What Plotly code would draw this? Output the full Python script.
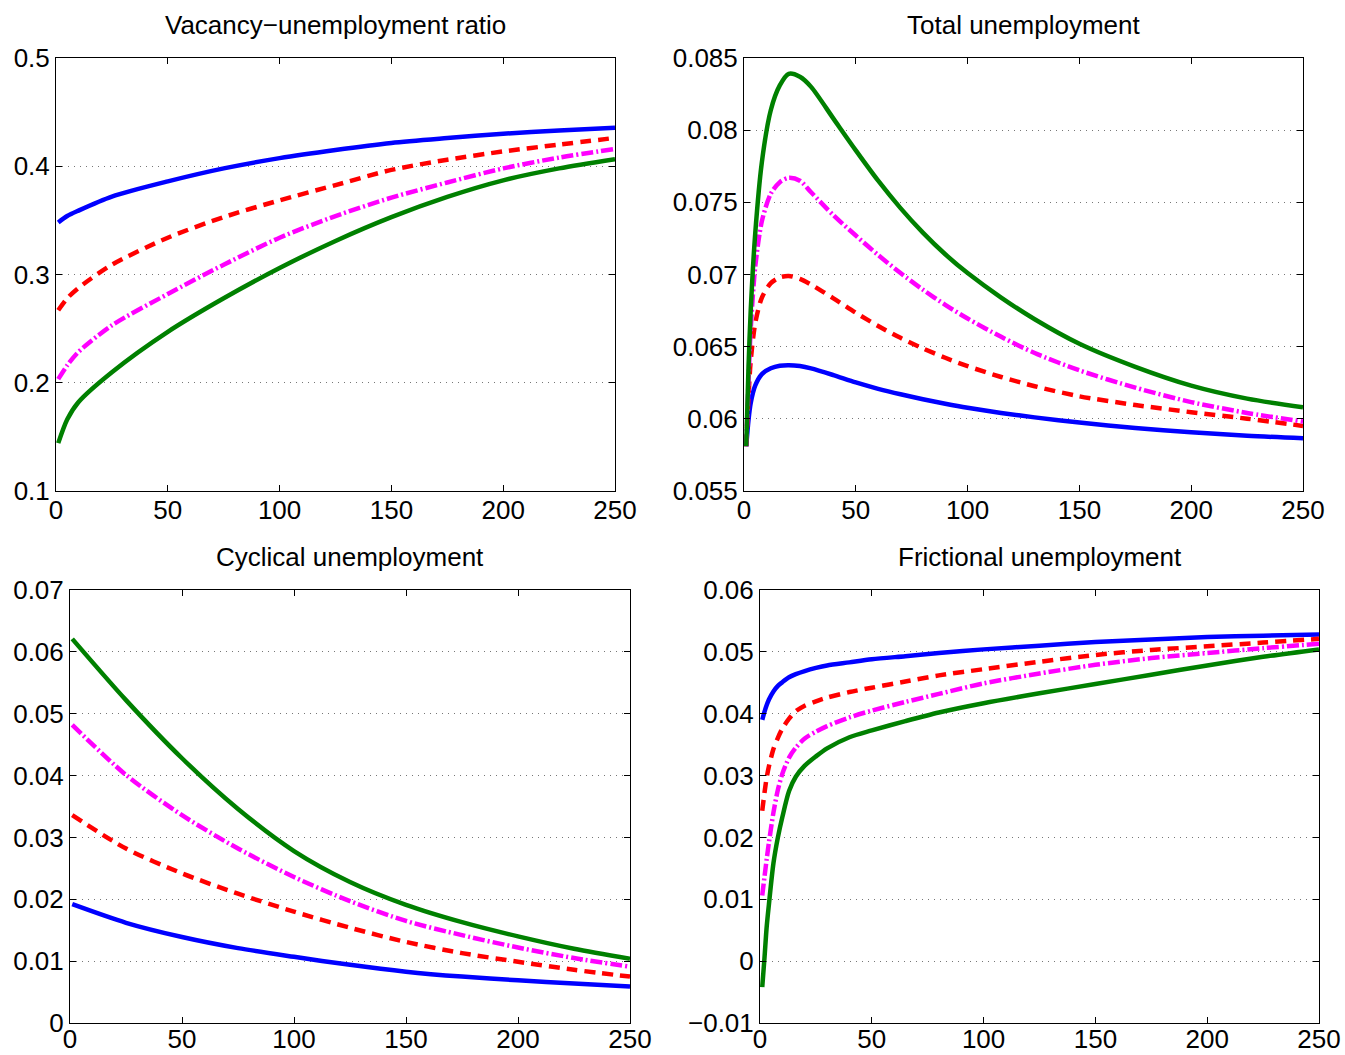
import plotly.graph_objects as go

# ---------------- data ----------------
titles = ["Vacancy\u2212unemployment ratio", "Total unemployment",
          "Cyclical unemployment", "Frictional unemployment"]
series_names = ["blue", "red", "magenta", "green"]

x_vu = [1, 5, 10, 25, 50, 75, 100, 125, 150, 175, 200, 225, 250]
vu_blue = [0.348, 0.354, 0.359, 0.372, 0.386, 0.398, 0.4075, 0.415, 0.4215, 0.426, 0.430, 0.433, 0.4355]
vu_red = [0.267, 0.278, 0.2875, 0.309, 0.334, 0.353, 0.3685, 0.3826, 0.3966, 0.406, 0.4137, 0.420, 0.4262]
vu_mag = [0.2034, 0.216, 0.2284, 0.253, 0.282, 0.309, 0.334, 0.354, 0.371, 0.385, 0.398, 0.408, 0.416]
vu_green = [0.1442, 0.166, 0.182, 0.2097, 0.247, 0.278, 0.306, 0.331, 0.353, 0.3717, 0.387, 0.398, 0.4065]

x_tot = [1, 2, 3, 5, 8, 12, 16, 20, 25, 30, 40, 50, 60, 70, 80, 90, 100, 115, 130, 150, 175, 200, 225, 250]
tot_blue = [0.0581, 0.0599, 0.0611, 0.0623, 0.0631, 0.0635, 0.06368, 0.06372, 0.06366, 0.06350, 0.06303, 0.06252,
            0.06208, 0.06170, 0.06136, 0.06105, 0.06077, 0.06041, 0.06010, 0.05974, 0.05937, 0.05907, 0.05883, 0.05866]
tot_red = [0.0581, 0.0615, 0.0640, 0.0666, 0.0684, 0.0694, 0.0698, 0.0699, 0.0697, 0.0693, 0.06835, 0.06735,
           0.06643, 0.06561, 0.06488, 0.06423, 0.06365, 0.06290, 0.06226, 0.06156, 0.06096, 0.06046, 0.06001, 0.05951]
tot_mag = [0.0581, 0.0625, 0.0662, 0.0705, 0.0737, 0.0756, 0.0764, 0.0767, 0.0765, 0.0757, 0.0741, 0.0727,
           0.07135, 0.07010, 0.06895, 0.06790, 0.06695, 0.06568, 0.06456, 0.06336, 0.06216, 0.06116, 0.06041, 0.05981]
tot_green = [0.0581, 0.0635, 0.0675, 0.0728, 0.0778, 0.0814, 0.0831, 0.0839, 0.0837, 0.0830, 0.0808, 0.0786,
             0.0765, 0.0746, 0.0729, 0.0714, 0.0701, 0.0684, 0.0669, 0.0652, 0.0636, 0.0623, 0.0614, 0.0608]

x_cyc = [1, 25, 50, 75, 100, 125, 150, 175, 200, 225, 250]
cyc_blue = [0.0192, 0.0162, 0.0139, 0.0121, 0.0107, 0.0094, 0.0083, 0.0075, 0.0069, 0.0064, 0.0059]
cyc_red = [0.0336, 0.0282, 0.0242, 0.0209, 0.0180, 0.0154, 0.0131, 0.0113, 0.0099, 0.0086, 0.0075]
cyc_mag = [0.0482, 0.0401, 0.0336, 0.0282, 0.0236, 0.0197, 0.0165, 0.0142, 0.0122, 0.0105, 0.0091]
cyc_green = [0.0621, 0.0522, 0.0428, 0.0346, 0.0278, 0.0228, 0.0191, 0.0163, 0.0140, 0.0120, 0.0104]

x_fri = [1, 2, 3, 4, 6, 8, 10, 13, 16, 20, 25, 30, 40, 50, 65, 80, 100, 125, 150, 175, 200, 225, 250]
fri_blue = [0.0390, 0.0403, 0.0414, 0.0423, 0.0436, 0.0445, 0.0451, 0.0459, 0.0464, 0.0469, 0.0474, 0.0478,
            0.0483, 0.0488, 0.0493, 0.0498, 0.0504, 0.0510, 0.0516, 0.0520, 0.0524, 0.0526, 0.0528]
fri_red = [0.0243, 0.0272, 0.0297, 0.0315, 0.0343, 0.0361, 0.0376, 0.0392, 0.0404, 0.0413, 0.0420, 0.0426,
           0.0435, 0.0442, 0.0452, 0.0462, 0.0472, 0.0484, 0.0495, 0.0503, 0.0509, 0.0515, 0.0521]
fri_mag = [0.0106, 0.0136, 0.0165, 0.0192, 0.0240, 0.0277, 0.0303, 0.0329, 0.0345, 0.0360, 0.0371, 0.0380,
           0.0394, 0.0405, 0.0419, 0.0432, 0.0449, 0.0465, 0.0479, 0.0490, 0.0498, 0.0506, 0.0513]
fri_green = [-0.0042, 0.0005, 0.0056, 0.0092, 0.0158, 0.0200, 0.0233, 0.0275, 0.0298, 0.0316, 0.0331, 0.0344,
             0.0362, 0.0373, 0.0388, 0.0402, 0.0417, 0.0433, 0.0448, 0.0463, 0.0478, 0.0492, 0.0504]

x_ticks = [0, 50, 100, 150, 200, 250]
y_ticks_vu = [0.1, 0.2, 0.3, 0.4, 0.5]
y_labels_vu = ["0.1", "0.2", "0.3", "0.4", "0.5"]
y_ticks_tot = [0.055, 0.06, 0.065, 0.07, 0.075, 0.08, 0.085]
y_labels_tot = ["0.055", "0.06", "0.065", "0.07", "0.075", "0.08", "0.085"]
y_ticks_cyc = [0, 0.01, 0.02, 0.03, 0.04, 0.05, 0.06, 0.07]
y_labels_cyc = ["0", "0.01", "0.02", "0.03", "0.04", "0.05", "0.06", "0.07"]
y_ticks_fri = [-0.01, 0, 0.01, 0.02, 0.03, 0.04, 0.05, 0.06]
y_labels_fri = ["\u22120.01", "0", "0.01", "0.02", "0.03", "0.04", "0.05", "0.06"]

# ---------------- styling ----------------
W, H = 1345, 1055
styles = [
    dict(color="#0000ff", width=4.5, dash="solid"),
    dict(color="#ff0000", width=4.5, dash="11px,7px"),
    dict(color="#ff00ff", width=4.5, dash="12px,3px,2px,3px"),
    dict(color="#008000", width=4.5, dash="solid"),
]

# (x values, series, (left, right, top, bottom) px, y range, y ticks, y labels, x label standoff)
panels = [
    (x_vu, [vu_blue, vu_red, vu_mag, vu_green], (56, 615, 58, 491), [0.1, 0.5], y_ticks_vu, y_labels_vu, -4),
    (x_tot, [tot_blue, tot_red, tot_mag, tot_green], (744, 1303, 58, 491), [0.055, 0.085], y_ticks_tot, y_labels_tot, -4),
    (x_cyc, [cyc_blue, cyc_red, cyc_mag, cyc_green], (70, 630, 590, 1023), [0, 0.07], y_ticks_cyc, y_labels_cyc, -7),
    (x_fri, [fri_blue, fri_red, fri_mag, fri_green], (760, 1319, 590, 1023), [-0.01, 0.06], y_ticks_fri, y_labels_fri, -7),
]

fig = go.Figure()
font = dict(family="Liberation Sans, Arial, sans-serif", size=26, color="black")
annotations = []
for i, (xs, ys_list, (l, r, t, b), yr, yt, yl, stand) in enumerate(panels):
    n = "" if i == 0 else str(i + 1)
    for name, ys, st in zip(series_names, ys_list, styles):
        fig.add_trace(go.Scatter(x=xs, y=ys, mode="lines", name=name, showlegend=False,
                                 line=dict(shape="spline", smoothing=0.8, **st),
                                 xaxis="x" + n, yaxis="y" + n))
    xdom = [l / W, r / W]
    ydom = [1 - b / H, 1 - t / H]
    fig.layout["xaxis" + n] = dict(
        domain=xdom, anchor="y" + n, range=[0, 250], tickvals=x_ticks, automargin=False,
        ticks="inside", ticklen=6, tickcolor="black", mirror="ticks", ticklabelstandoff=stand,
        showline=True, linecolor="black", linewidth=1, showgrid=False, zeroline=False,
        tickfont=font)
    fig.layout["yaxis" + n] = dict(
        domain=ydom, anchor="x" + n, range=yr, tickvals=yt, ticktext=yl, automargin=False,
        ticks="inside", ticklen=6, tickcolor="black", mirror="ticks",
        showline=True, linecolor="black", linewidth=1,
        showgrid=True, gridcolor="#777777", griddash="1px,5px", gridwidth=1, zeroline=False,
        tickfont=font)
    annotations.append(dict(text=titles[i], x=(xdom[0] + xdom[1]) / 2, y=1 - (t - 33) / H,
                            xref="paper", yref="paper", showarrow=False,
                            xanchor="center", yanchor="middle", font=font))

fig.update_layout(width=W, height=H, margin=dict(l=0, r=0, t=0, b=0),
                  paper_bgcolor="white", plot_bgcolor="white",
                  annotations=annotations, showlegend=False)

# remove the browser's default page margin so the figure fills the window exactly
fig.write_html("out.html", config={"displayModeBar": False},
               post_script="document.body.style.margin='0';document.body.style.overflow='hidden';")
